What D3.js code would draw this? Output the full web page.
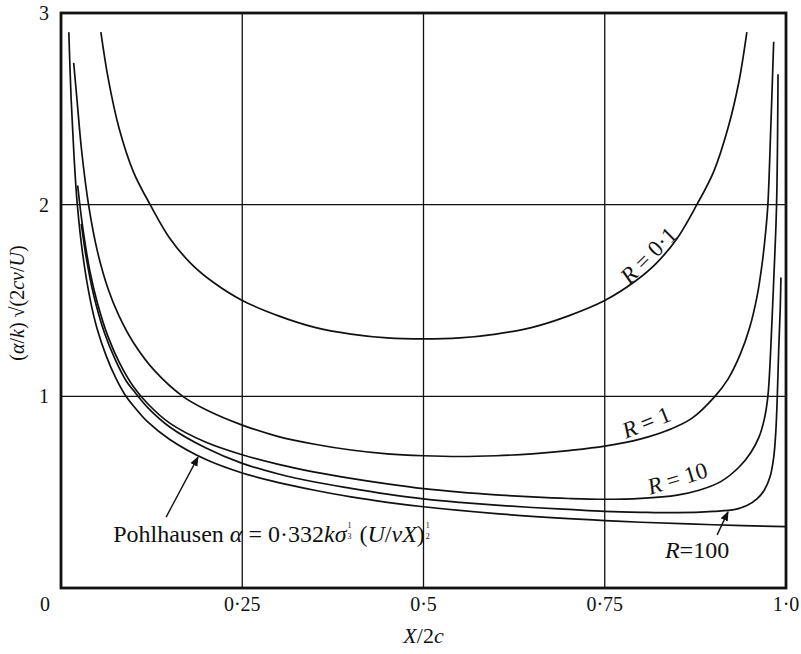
<!DOCTYPE html>
<html>
<head>
<meta charset="utf-8">
<script src="https://cdn.jsdelivr.net/npm/d3@7"></script>
<style>
  body { margin: 0; background: #fff; }
  svg { display: block; }
  text { font-family: "Liberation Serif", "DejaVu Serif", serif; fill: #111; white-space: pre; }
</style>
</head>
<body>
<svg id="chart" width="801" height="654"></svg>
<script>
// curves, [X/2c, (a/k)sqrt(2cv/U)]
const r01 = [[0.055,2.90],[0.065,2.66],[0.08,2.40],[0.10,2.17],[0.123,2.00],[0.15,1.825],[0.18,1.69],[0.21,1.595],[0.25,1.50],[0.30,1.42],[0.35,1.36],[0.40,1.325],[0.45,1.305],[0.50,1.30],[0.55,1.305],[0.60,1.325],[0.65,1.36],[0.70,1.42],[0.75,1.50],[0.79,1.595],[0.82,1.69],[0.85,1.825],[0.877,2.00],[0.90,2.17],[0.92,2.40],[0.935,2.64],[0.946,2.90]];
const r1 = [[0.0175,2.74],[0.022,2.55],[0.0285,2.28],[0.038,2.00],[0.05,1.76],[0.065,1.56],[0.08,1.42],[0.10,1.28],[0.13,1.13],[0.168,1.00],[0.20,0.93],[0.25,0.85],[0.30,0.79],[0.35,0.75],[0.40,0.72],[0.45,0.70],[0.50,0.69],[0.55,0.686],[0.60,0.69],[0.65,0.70],[0.70,0.717],[0.75,0.74],[0.80,0.778],[0.835,0.82],[0.87,0.885],[0.902,1.00],[0.92,1.09],[0.937,1.22],[0.95,1.36],[0.96,1.52],[0.967,1.69],[0.972,1.86],[0.975,2.00],[0.979,2.40],[0.983,2.85]];
const r10 = [[0.023,2.10],[0.03,1.88],[0.04,1.65],[0.05,1.49],[0.065,1.31],[0.08,1.18],[0.10,1.05],[0.12,0.96],[0.15,0.86],[0.20,0.76],[0.25,0.695],[0.30,0.645],[0.35,0.605],[0.40,0.572],[0.45,0.543],[0.50,0.518],[0.55,0.50],[0.60,0.486],[0.65,0.475],[0.70,0.467],[0.75,0.463],[0.80,0.468],[0.85,0.485],[0.88,0.51],[0.91,0.555],[0.935,0.63],[0.952,0.71],[0.963,0.79],[0.970,0.88],[0.975,1.00],[0.979,1.25],[0.983,1.60],[0.987,2.00],[0.989,2.68]];
const r100 = [[0.028,1.90],[0.035,1.72],[0.045,1.53],[0.06,1.33],[0.075,1.19],[0.09,1.08],[0.10,1.03],[0.12,0.94],[0.15,0.84],[0.20,0.73],[0.25,0.65],[0.30,0.595],[0.35,0.553],[0.40,0.52],[0.45,0.49],[0.50,0.465],[0.55,0.447],[0.60,0.432],[0.65,0.42],[0.70,0.41],[0.75,0.40],[0.80,0.395],[0.85,0.393],[0.90,0.40],[0.93,0.41],[0.946,0.43],[0.96,0.465],[0.97,0.51],[0.978,0.58],[0.983,0.68],[0.986,0.82],[0.988,1.00],[0.990,1.25],[0.992,1.45],[0.993,1.62]];
const pohl = [[0.0108,2.90],[0.014,2.55],[0.018,2.25],[0.0225,2.00],[0.03,1.74],[0.04,1.51],[0.05,1.35],[0.0625,1.21],[0.075,1.10],[0.088,1.01],[0.10,0.95],[0.12,0.865],[0.15,0.775],[0.20,0.67],[0.25,0.60],[0.30,0.55],[0.35,0.51],[0.40,0.475],[0.45,0.447],[0.50,0.424],[0.60,0.388],[0.70,0.362],[0.75,0.352],[0.80,0.343],[0.90,0.33],[1.00,0.32]];

const xTicks = [0.25, 0.5, 0.75, 1.0];
const xTickLabels = ["0·25", "0·5", "0·75", "1·0"];
const yTicks = [1, 2, 3];
const yTickLabels = ["1", "2", "3"];

const svg = d3.select("#chart");
const x = d3.scaleLinear().domain([0, 1]).range([61, 786]);
const y = d3.scaleLinear().domain([0, 3]).range([588, 13]);

// grid
svg.append("g").selectAll("line").data([0.25, 0.5, 0.75]).join("line")
  .attr("x1", d => x(d)).attr("x2", d => x(d))
  .attr("y1", y(0)).attr("y2", y(3))
  .attr("stroke", "#111").attr("stroke-width", 1.3);
svg.append("g").selectAll("line").data([1, 2]).join("line")
  .attr("x1", x(0)).attr("x2", x(1))
  .attr("y1", d => y(d)).attr("y2", d => y(d))
  .attr("stroke", "#111").attr("stroke-width", 1.3);

// curves
const line = d3.line()
  .x(d => x(d[0])).y(d => y(d[1]))
  .curve(d3.curveCatmullRom.alpha(0.5));
svg.append("g").selectAll("path").data([r01, r1, r10, r100, pohl]).join("path")
  .attr("d", line)
  .attr("fill", "none").attr("stroke", "#111").attr("stroke-width", 1.7);

// frame
svg.append("rect")
  .attr("x", x(0)).attr("y", y(3))
  .attr("width", x(1) - x(0)).attr("height", y(0) - y(3))
  .attr("fill", "none").attr("stroke", "#111").attr("stroke-width", 2.8);

// tick labels
svg.append("g").selectAll("text").data(xTicks).join("text")
  .attr("x", d => x(d)).attr("y", 611)
  .attr("text-anchor", "middle").style("font-size", "20px")
  .text((d, i) => xTickLabels[i]);
svg.append("g").selectAll("text").data(yTicks).join("text")
  .attr("x", 44).attr("y", d => y(d) + 7)
  .attr("text-anchor", "middle").style("font-size", "20px")
  .text((d, i) => yTickLabels[i]);
svg.append("text").attr("x", 45).attr("y", 611)
  .attr("text-anchor", "middle").style("font-size", "20px").text("0");

// axis titles
const xt = svg.append("text").attr("x", x(0.5)).attr("y", 643)
  .attr("text-anchor", "middle").style("font-size", "22px");
xt.append("tspan").style("font-style", "italic").text("X");
xt.append("tspan").text("/2");
xt.append("tspan").style("font-style", "italic").text("c");

const yt = svg.append("text").attr("transform", "translate(24,303) rotate(-90)")
  .attr("text-anchor", "middle").style("font-size", "20px");
[["(", 0], ["α", 1], ["/", 0], ["k", 1], [") √(2", 0], ["cν", 1], ["/", 0], ["U", 1], [")", 0]]
  .forEach(p => yt.append("tspan").style("font-style", p[1] ? "italic" : "normal").text(p[0]));

// curve labels
function label(px, py, ang, parts, size) {
  const t = svg.append("text")
    .attr("transform", `translate(${x(px)},${y(py)}) rotate(${ang})`)
    .attr("text-anchor", "middle").attr("dy", "0.35em")
    .style("font-size", size + "px");
  parts.forEach(p => t.append("tspan").style("font-style", p[1] ? "italic" : "normal").text(p[0]));
}
label(0.81, 1.737, -45, [["R", 1], [" = 0·1", 0]], 23);
label(0.807, 0.866, -22, [["R", 1], [" = 1", 0]], 23);
label(0.85, 0.574, -17, [["R", 1], [" = 10", 0]], 23);
const r100t = svg.append("text").attr("x", x(0.833)).attr("y", y(0.157)).style("font-size", "24px");
r100t.append("tspan").style("font-style", "italic").text("R");
r100t.append("tspan").text("=100");

// arrows
svg.append("defs").append("marker")
  .attr("id", "head").attr("viewBox", "0 -5 10 10")
  .attr("refX", 9).attr("refY", 0)
  .attr("markerWidth", 7).attr("markerHeight", 7).attr("orient", "auto")
  .append("path").attr("d", "M0,-4L10,0L0,4Z").attr("fill", "#111");
const arrows = [[[0.145, 0.37], [0.189, 0.683]], [[0.905, 0.277], [0.92, 0.397]]];
svg.append("g").selectAll("line").data(arrows).join("line")
  .attr("x1", d => x(d[0][0])).attr("y1", d => y(d[0][1]))
  .attr("x2", d => x(d[1][0])).attr("y2", d => y(d[1][1]))
  .attr("stroke", "#111").attr("stroke-width", 1.4)
  .attr("marker-end", "url(#head)");

// Pohlhausen formula as one text, stacked tiny fractions as tspans
const by = y(0.24);
const ft = svg.append("text").attr("y", by).style("font-size", "24px");
let cx = x(0.072);
const pieces = [
  ["Pohlhausen\u00a0", 0], ["α", 1], ["\u00a0=\u00a00·332", 0], ["kσ", 1], ["1/3", 2],
  ["\u00a0(", 0], ["U", 1], ["/", 0], ["νX", 1], [")", 0], ["1/2", 2]
];
pieces.forEach(p => {
  if (p[1] === 2) {
    const [n, dd] = p[0].split("/");
    const a = ft.append("tspan").attr("x", cx + 1).attr("y", by - 14).style("font-size", "8px").text(n);
    ft.append("tspan").attr("x", cx + 1).attr("y", by - 3).style("font-size", "8px").text(dd);
    cx += a.node().getComputedTextLength() + 3;
  } else {
    const t = ft.append("tspan").attr("x", cx).attr("y", by)
      .style("font-style", p[1] ? "italic" : "normal").text(p[0]);
    cx += t.node().getComputedTextLength();
  }
});
</script>
</body>
</html>
